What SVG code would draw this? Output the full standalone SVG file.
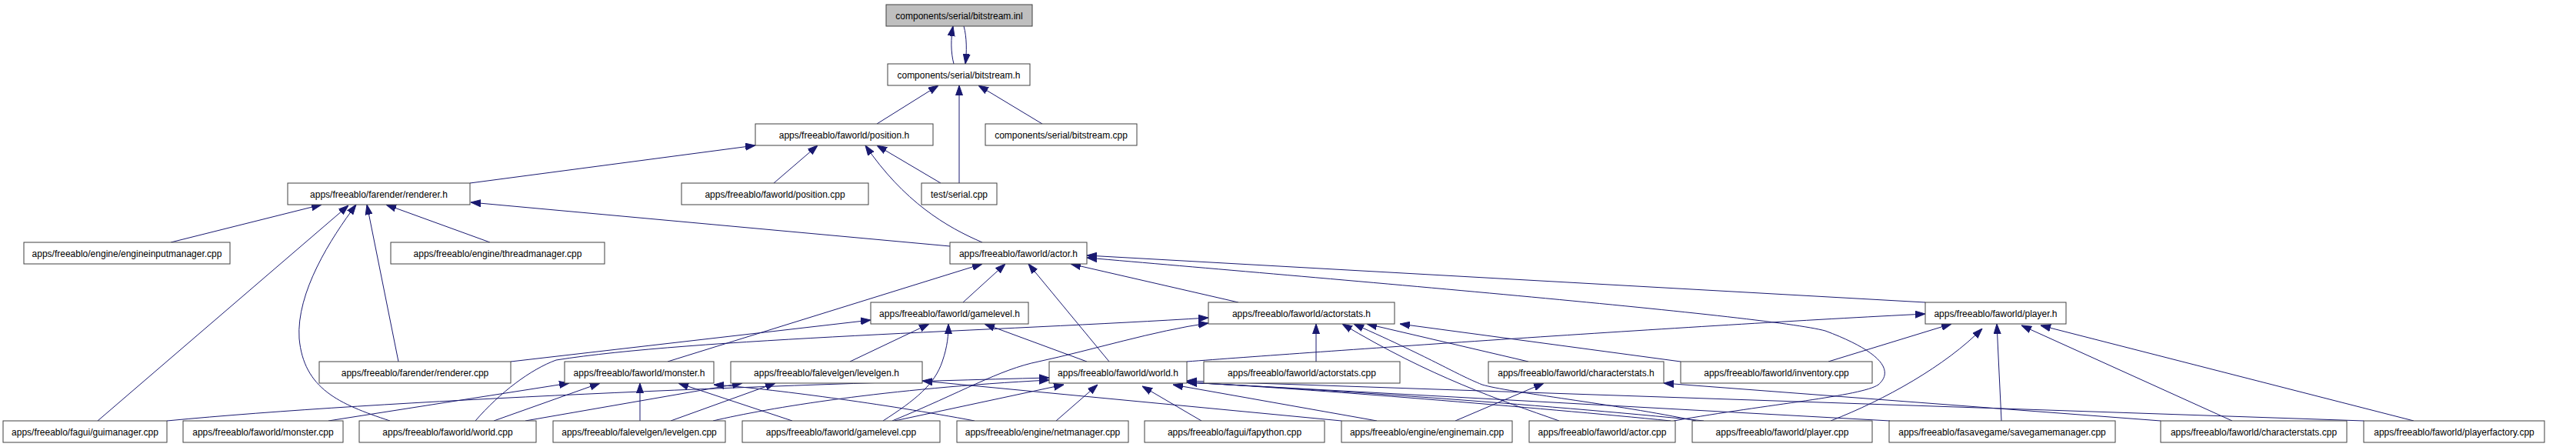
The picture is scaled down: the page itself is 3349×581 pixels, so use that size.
<svg xmlns="http://www.w3.org/2000/svg" width="3349" height="581" viewBox="0 0 3349 581">
<defs>
<marker id="ah" viewBox="0 0 13 10" refX="13" refY="5" markerWidth="13" markerHeight="10" markerUnits="userSpaceOnUse" orient="auto">
<path d="M0,0.5 L13,5 L0,9.5 z" fill="#191970" stroke="#191970" stroke-width="1"/>
</marker>
<style>
.n rect{fill:#fff;stroke:#404040;stroke-width:1}
.n text{font-family:"Liberation Sans",Arial,sans-serif;font-size:12px;fill:#000;text-anchor:middle}
.e path{fill:none;stroke:#191970;stroke-width:1;marker-end:url(#ah)}
</style>
</defs>
<rect width="3349" height="581" fill="#fff"/>
<g class="e" id="edges">
<path d="M1240,83 C1236,68 1236,50 1239,34"/>
<path d="M1253,34 C1257,48 1257,68 1255,83"/>
<path d="M1140,161 L1220,111"/>
<path d="M1247,238 L1247,111"/>
<path d="M1355,161 L1272,111"/>
<path d="M1006,238 L1063,189"/>
<path d="M1223,238 L1140,189"/>
<path d="M1277,315 C1230,295 1175,262 1125,189"/>
<path d="M611,238 L982,189"/>
<path d="M222,315 L418,266"/>
<path d="M127,547 L453,267"/>
<path d="M507,547 C440,525 395,505 389,440 C385,380 430,310 463,266"/>
<path d="M518,470 L477,266"/>
<path d="M637,315 L502,266"/>
<path d="M1235,320 L612,263"/>
<path d="M1252,393 L1307,343"/>
<path d="M868,470 L1277,343"/>
<path d="M1442,470 L1337,343"/>
<path d="M1610,393 L1392,343"/>
<path d="M2503,393 L1413,332"/>
<path d="M2176,547 C2300,525 2420,515 2442,500 C2465,480 2440,455 2373,430 C2300,410 1700,360 1413,335"/>
<path d="M1105,470 L1208,421"/>
<path d="M1148,547 C1190,520 1215,500 1225,470 C1232,450 1233,435 1233,421"/>
<path d="M1413,470 L1280,421"/>
<path d="M664,470 L1132,416"/>
<path d="M618,547 C650,510 690,480 723,468 C900,440 1300,430 1571,413"/>
<path d="M1160,547 C1250,510 1300,480 1350,470 C1420,455 1500,430 1571,420"/>
<path d="M1711,470 L1711,421"/>
<path d="M2027,547 C1950,520 1860,490 1745,421"/>
<path d="M2205,547 C2100,525 1960,510 1927,500 C1890,485 1870,470 1760,421"/>
<path d="M1987,470 L1777,421"/>
<path d="M2185,470 L1820,421"/>
<path d="M1543,470 C1700,458 2200,423 2503,408"/>
<path d="M2377,470 L2537,421"/>
<path d="M2380,547 C2450,520 2530,475 2577,427"/>
<path d="M2602,547 L2596,421"/>
<path d="M2902,547 L2628,423"/>
<path d="M3138,547 L2653,423"/>
<path d="M427,547 L740,498"/>
<path d="M642,547 L780,498"/>
<path d="M832,547 L832,498"/>
<path d="M1030,547 L882,498"/>
<path d="M1267,547 C1150,525 1000,505 928,500"/>
<path d="M683,547 L965,498"/>
<path d="M872,547 L1008,498"/>
<path d="M1744,547 L1199,495"/>
<path d="M217,547 C500,520 1000,500 1364,491"/>
<path d="M927,547 C1000,530 1150,505 1364,494"/>
<path d="M1163,547 L1383,500"/>
<path d="M1373,547 L1427,500"/>
<path d="M1562,547 L1485,502"/>
<path d="M1790,547 L1525,500"/>
<path d="M2172,547 C2000,530 1700,505 1543,497"/>
<path d="M2215,547 C2000,525 1700,505 1543,497"/>
<path d="M2457,547 L1543,497"/>
<path d="M3073,547 L1543,495"/>
<path d="M1892,547 L2007,498"/>
<path d="M2809,547 L2163,498"/>
</g>
<g class="n" id="n_inl"><rect x="1152" y="6" width="190" height="28" style="fill:#bfbfbf"/><text x="1247" y="24.5">components/serial/bitstream.inl</text></g>
<g class="n" id="n_bsh"><rect x="1154" y="83" width="185" height="28"/><text x="1246.5" y="101.5">components/serial/bitstream.h</text></g>
<g class="n" id="n_posh"><rect x="982" y="161" width="231" height="28"/><text x="1097.5" y="179.5">apps/freeablo/faworld/position.h</text></g>
<g class="n" id="n_bscpp"><rect x="1281" y="161" width="197" height="28"/><text x="1379.5" y="179.5">components/serial/bitstream.cpp</text></g>
<g class="n" id="n_rendh"><rect x="374" y="238" width="237" height="28"/><text x="492.5" y="256.5">apps/freeablo/farender/renderer.h</text></g>
<g class="n" id="n_poscpp"><rect x="886" y="238" width="243" height="28"/><text x="1007.5" y="256.5">apps/freeablo/faworld/position.cpp</text></g>
<g class="n" id="n_serial"><rect x="1198" y="238" width="98" height="28"/><text x="1247" y="256.5">test/serial.cpp</text></g>
<g class="n" id="n_eim"><rect x="31" y="315" width="268" height="28"/><text x="165" y="333.5">apps/freeablo/engine/engineinputmanager.cpp</text></g>
<g class="n" id="n_thread"><rect x="508" y="315" width="278" height="28"/><text x="647" y="333.5">apps/freeablo/engine/threadmanager.cpp</text></g>
<g class="n" id="n_actorh"><rect x="1235" y="315" width="178" height="28"/><text x="1324" y="333.5">apps/freeablo/faworld/actor.h</text></g>
<g class="n" id="n_glh"><rect x="1132" y="393" width="205" height="28"/><text x="1234.5" y="411.5">apps/freeablo/faworld/gamelevel.h</text></g>
<g class="n" id="n_ash"><rect x="1571" y="393" width="242" height="28"/><text x="1692" y="411.5">apps/freeablo/faworld/actorstats.h</text></g>
<g class="n" id="n_playerh"><rect x="2503" y="393" width="183" height="28"/><text x="2594.5" y="411.5">apps/freeablo/faworld/player.h</text></g>
<g class="n" id="n_rendcpp"><rect x="415" y="470" width="249" height="28"/><text x="539.5" y="488.5">apps/freeablo/farender/renderer.cpp</text></g>
<g class="n" id="n_monsterh"><rect x="734" y="470" width="194" height="28"/><text x="831" y="488.5">apps/freeablo/faworld/monster.h</text></g>
<g class="n" id="n_levelgenh"><rect x="950" y="470" width="249" height="28"/><text x="1074.5" y="488.5">apps/freeablo/falevelgen/levelgen.h</text></g>
<g class="n" id="n_worldh"><rect x="1364" y="470" width="179" height="28"/><text x="1453.5" y="488.5">apps/freeablo/faworld/world.h</text></g>
<g class="n" id="n_ascpp"><rect x="1565" y="470" width="255" height="28"/><text x="1692.5" y="488.5">apps/freeablo/faworld/actorstats.cpp</text></g>
<g class="n" id="n_csh"><rect x="1935" y="470" width="228" height="28"/><text x="2049" y="488.5">apps/freeablo/faworld/characterstats.h</text></g>
<g class="n" id="n_invcpp"><rect x="2185" y="470" width="249" height="28"/><text x="2309.5" y="488.5">apps/freeablo/faworld/inventory.cpp</text></g>
<g class="n" id="n_gui"><rect x="4" y="547" width="213" height="28"/><text x="110.5" y="565.5">apps/freeablo/fagui/guimanager.cpp</text></g>
<g class="n" id="n_moncpp"><rect x="238" y="547" width="208" height="28"/><text x="342" y="565.5">apps/freeablo/faworld/monster.cpp</text></g>
<g class="n" id="n_worldcpp"><rect x="467" y="547" width="230" height="28"/><text x="582" y="565.5">apps/freeablo/faworld/world.cpp</text></g>
<g class="n" id="n_lgcpp"><rect x="719" y="547" width="224" height="28"/><text x="831" y="565.5">apps/freeablo/falevelgen/levelgen.cpp</text></g>
<g class="n" id="n_glcpp"><rect x="965" y="547" width="257" height="28"/><text x="1093.5" y="565.5">apps/freeablo/faworld/gamelevel.cpp</text></g>
<g class="n" id="n_net"><rect x="1244" y="547" width="223" height="28"/><text x="1355.5" y="565.5">apps/freeablo/engine/netmanager.cpp</text></g>
<g class="n" id="n_fapy"><rect x="1488" y="547" width="234" height="28"/><text x="1605" y="565.5">apps/freeablo/fagui/fapython.cpp</text></g>
<g class="n" id="n_em"><rect x="1744" y="547" width="222" height="28"/><text x="1855" y="565.5">apps/freeablo/engine/enginemain.cpp</text></g>
<g class="n" id="n_actorcpp"><rect x="1988" y="547" width="190" height="28"/><text x="2083" y="565.5">apps/freeablo/faworld/actor.cpp</text></g>
<g class="n" id="n_playercpp"><rect x="2200" y="547" width="234" height="28"/><text x="2317" y="565.5">apps/freeablo/faworld/player.cpp</text></g>
<g class="n" id="n_sgm"><rect x="2456" y="547" width="294" height="28"/><text x="2603" y="565.5">apps/freeablo/fasavegame/savegamemanager.cpp</text></g>
<g class="n" id="n_cscpp"><rect x="2809" y="547" width="242" height="28"/><text x="2930" y="565.5">apps/freeablo/faworld/characterstats.cpp</text></g>
<g class="n" id="n_pf"><rect x="3073" y="547" width="235" height="28"/><text x="3190.5" y="565.5">apps/freeablo/faworld/playerfactory.cpp</text></g>
</svg>
